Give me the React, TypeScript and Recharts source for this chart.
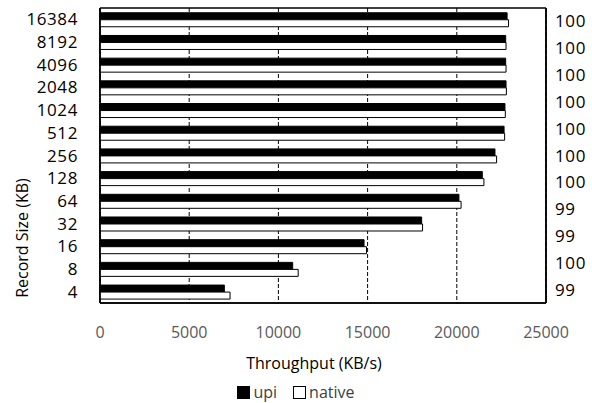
import {
  BarChart,
  Bar,
  XAxis,
  YAxis,
  CartesianGrid,
  Legend,
} from "recharts";

const recordSizes = ["16384", "8192", "4096", "2048", "1024", "512", "256", "128", "64", "32", "16", "8", "4"];
const upiThroughput = [22820, 22740, 22740, 22760, 22700, 22650, 22140, 21430, 20120, 18030, 14800, 10800, 6970];
const nativeThroughput = [22900, 22760, 22760, 22780, 22720, 22680, 22230, 21520, 20240, 18080, 14940, 11110, 7290];
const ratioLabels = ["100", "100", "100", "100", "100", "100", "100", "99", "99", "100", "99"];
const xTicks = [0, 5000, 10000, 15000, 20000, 25000];

const FONT = "'Open Sans', sans-serif";

const data = recordSizes.map((size, i) => ({
  size,
  upi: upiThroughput[i],
  native: nativeThroughput[i],
}));

// right-hand labels sit in equal slots over a 0..1 axis (vertical layout runs top -> bottom)
const nRatio = ratioLabels.length;
const ratioTicks = ratioLabels.map((_, i) => (i + 0.5) / nRatio);
const ratioAt = (v: number) => ratioLabels[Math.round(v * nRatio - 0.5)];

function LegendContent() {
  const items = [
    { name: "upi", fill: "#000" },
    { name: "native", fill: "#fff" },
  ];
  return (
    <div
      style={{
        display: "flex",
        justifyContent: "center",
        alignItems: "center",
        height: 22,
        paddingLeft: 16,
        fontFamily: FONT,
        fontSize: 16,
        color: "#404040",
      }}
    >
      {items.map((it) => (
        <span key={it.name} style={{ display: "flex", alignItems: "center", marginRight: 16 }}>
          <span
            style={{
              display: "inline-block",
              width: 11,
              height: 11,
              background: it.fill,
              border: "1.5px solid #000",
              marginRight: 3,
            }}
          />
          {it.name}
        </span>
      ))}
    </div>
  );
}

export default function App() {
  return (
    <div style={{ position: "absolute", left: 0, top: 0, background: "#fff" }}>
      <BarChart
        width={592}
        height={403}
        data={data}
        layout="vertical"
        margin={{ top: 8, right: 0, bottom: 0, left: 0 }}
        barCategoryGap="21%"
        barGap={0}
      >
        <CartesianGrid
          horizontal={false}
          stroke="#000"
          strokeDasharray="4 2"
          strokeWidth={1}
        />
        {/* solid frame round the plot */}
        <CartesianGrid
          stroke="#000"
          strokeWidth={1.5}
          verticalCoordinatesGenerator={({ offset }: any) => [offset.left, offset.left + offset.width]}
          horizontalCoordinatesGenerator={({ offset }: any) => [offset.top, offset.top + offset.height]}
        />
        <XAxis
          type="number"
          domain={[0, 25000]}
          ticks={xTicks}
          interval={0}
          height={78}
          tickLine={false}
          tickSize={0}
          tickMargin={24}
          axisLine={{ stroke: "#000", strokeWidth: 1.5 }}
          tick={{ fontSize: 16, fill: "#595959", fontFamily: FONT }}
          label={{
            value: "Throughput (KB/s)",
            position: "insideBottom",
            offset: 12,
            dx: -9,
            style: { fontSize: 16, fill: "#000", fontFamily: FONT },
          }}
        />
        <YAxis
          type="category"
          dataKey="size"
          width={100}
          interval={0}
          tickLine={false}
          tickSize={0}
          tickMargin={22}
          axisLine={{ stroke: "#000", strokeWidth: 1.5 }}
          tick={{ fontSize: 17, fill: "#000", fontFamily: FONT, letterSpacing: 0.6 }}
          label={(props: any) => {
            const vb = props.viewBox || {};
            const cx = (vb.x ?? 0) + 22;
            const cy = 238;
            return (
              <text
                x={cx}
                y={cy}
                transform={`rotate(-90 ${cx} ${cy})`}
                textAnchor="middle"
                dominantBaseline="central"
                style={{ fontSize: 16, fill: "#000", fontFamily: FONT }}
              >
                Record Size (KB)
              </text>
            );
          }}
        />
        <YAxis
          yAxisId="ratio"
          orientation="right"
          type="number"
          dataKey={() => 0}
          domain={[0, 1]}
          ticks={ratioTicks}
          interval={0}
          width={46}
          tickLine={false}
          tickSize={0}
          tickMargin={9}
          axisLine={{ stroke: "#000", strokeWidth: 1.5 }}
          tickFormatter={ratioAt}
          tick={{ fontSize: 17, fill: "#000", fontFamily: FONT, letterSpacing: 0.6, textAnchor: "start" }}
        />
        <Legend verticalAlign="bottom" height={22} content={<LegendContent />} wrapperStyle={{ left: 0, width: 592 }} />
        <Bar dataKey="upi" name="upi" fill="#000" stroke="#000" strokeWidth={1} isAnimationActive={false} />
        <Bar dataKey="native" name="native" fill="#fff" stroke="#000" strokeWidth={1} isAnimationActive={false} />
      </BarChart>
    </div>
  );
}
